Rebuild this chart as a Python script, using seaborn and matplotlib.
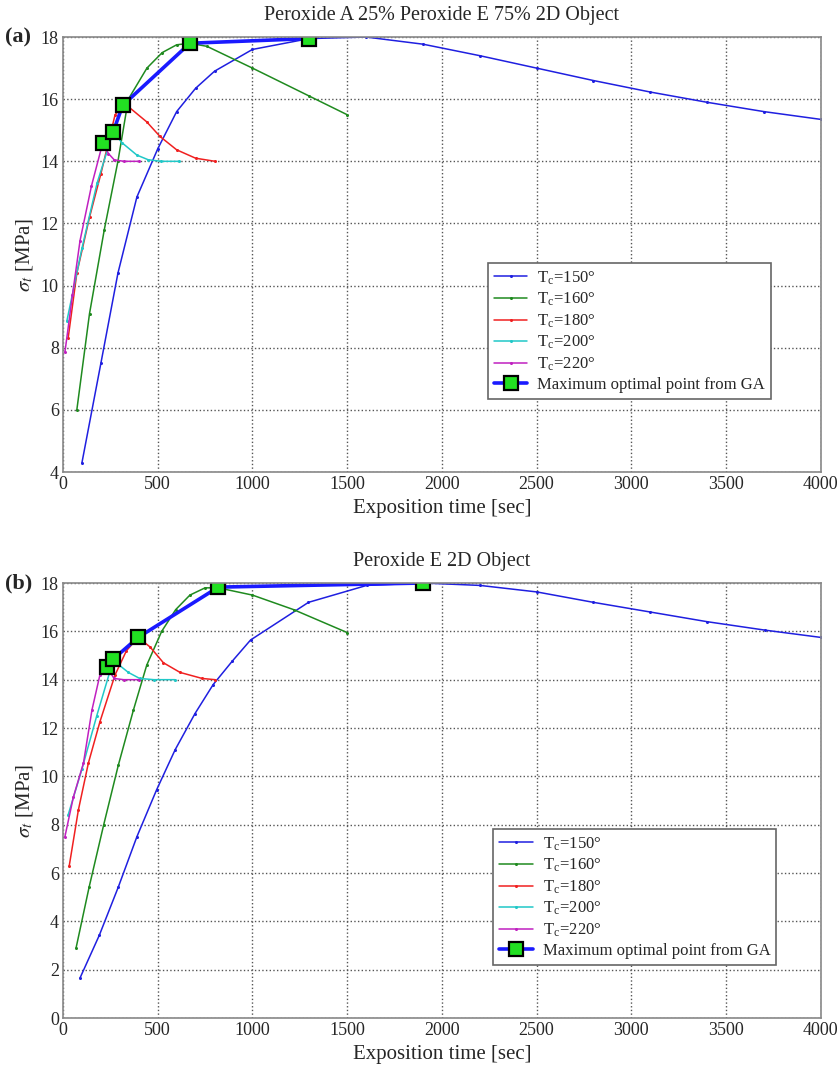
import matplotlib
matplotlib.use('Agg')
import matplotlib.pyplot as plt
import seaborn as sns
import pandas as pd

# (a) Peroxide A 25% / Peroxide E 75%
a150_t = [100, 200, 290, 390, 500, 600, 700, 800, 1000, 1300, 1600, 1900, 2200, 2500, 2800, 3100, 3400, 3700, 4000]
a150_s = [4.3, 7.5, 10.4, 12.85, 14.4, 15.6, 16.35, 16.9, 17.6, 17.95, 18.0, 17.77, 17.4, 17.0, 16.6, 16.23, 15.9, 15.6, 15.35]
a160_t = [73, 140, 218, 290, 345, 443, 524, 600, 670, 760, 1000, 1300, 1500]
a160_s = [6.0, 9.1, 11.8, 14.0, 16.0, 17.0, 17.5, 17.75, 17.8, 17.7, 17.0, 16.1, 15.5]
a180_t = [27, 73, 140, 200, 275, 327, 442, 512, 600, 700, 803]
a180_s = [8.3, 10.4, 12.2, 13.6, 15.5, 15.85, 15.27, 14.8, 14.37, 14.1, 14.0]
a200_t = [20, 100, 180, 265, 311, 390, 450, 520, 610]
a200_s = [8.85, 11.2, 13.3, 14.95, 14.6, 14.2, 14.05, 14.0, 14.0]
a220_t = [10, 50, 90, 150, 210, 240, 270, 320, 400]
a220_s = [7.85, 9.7, 11.45, 13.2, 14.6, 14.25, 14.05, 14.0, 14.0]
a_ga_t = [210, 265, 315, 670, 1300]
a_ga_s = [14.6, 14.95, 15.8, 17.8, 17.95]

# (b) Peroxide E
b150_t = [90, 192, 292, 390, 494, 592, 697, 793, 894, 990, 1296, 1603, 1900, 2202, 2502, 2800, 3100, 3400, 3706, 4000]
b150_s = [1.66, 3.43, 5.42, 7.5, 9.44, 11.1, 12.6, 13.8, 14.77, 15.64, 17.2, 17.9, 18.0, 17.9, 17.63, 17.2, 16.8, 16.4, 16.05, 15.75]
b160_t = [69, 138, 215, 292, 372, 442, 521, 595, 670, 750, 820, 1000, 1217, 1500]
b160_s = [2.9, 5.42, 8.0, 10.46, 12.75, 14.6, 16.0, 16.9, 17.5, 17.8, 17.8, 17.5, 16.9, 15.95]
b180_t = [33, 81, 134, 195, 275, 335, 397, 460, 530, 618, 735, 803]
b180_s = [6.3, 8.6, 10.55, 12.26, 14.2, 15.2, 15.75, 15.35, 14.7, 14.3, 14.05, 14.0]
b200_t = [27, 100, 178, 265, 345, 405, 480, 590]
b200_s = [8.4, 10.3, 12.5, 14.8, 14.3, 14.05, 14.0, 14.0]
b220_t = [10, 55, 108, 153, 195, 232, 270, 320, 400]
b220_s = [7.5, 9.15, 10.55, 12.75, 14.2, 14.5, 14.05, 14.0, 14.0]
b_ga_t = [232, 265, 397, 820, 1900]
b_ga_s = [14.52, 14.85, 15.75, 17.83, 18.0]

temps = ['150', '160', '180', '200', '220']
colors = ['#1f1fe0', '#1f8a1f', '#f02020', '#20c8c8', '#c020c0']

sns.set_style('whitegrid')
plt.rcParams['font.family'] = ['Liberation Serif', 'DejaVu Serif']
plt.rcParams['mathtext.fontset'] = 'stix'

fig = plt.figure(figsize=(8.4, 10.67), dpi=100)
ax_a = fig.add_axes([0.075, 0.5576, 0.902, 0.4077])
ax_b = fig.add_axes([0.075, 0.0459, 0.902, 0.4077])

panels = [
    (ax_a, [(a150_t, a150_s), (a160_t, a160_s), (a180_t, a180_s), (a200_t, a200_s), (a220_t, a220_s)],
     (a_ga_t, a_ga_s), 'Peroxide A 25% Peroxide E 75% 2D Object', (4, 18), [4, 6, 8, 10, 12, 14, 16, 18],
     (0.55, 0.149), '(a)'),
    (ax_b, [(b150_t, b150_s), (b160_t, b160_s), (b180_t, b180_s), (b200_t, b200_s), (b220_t, b220_s)],
     (b_ga_t, b_ga_s), 'Peroxide E 2D Object', (0, 18), [0, 2, 4, 6, 8, 10, 12, 14, 16, 18],
     (0.557, 0.103), '(b)'),
]

for ax, series, ga, title, ylim, yticks, leg_pos, tag in panels:
    for (t, s), temp, c in zip(series, temps, colors):
        df = pd.DataFrame({'t': t, 's': s})
        sns.lineplot(data=df, x='t', y='s', ax=ax, color=c, lw=1.1, marker='o', markersize=2.2,
                     markeredgewidth=0, sort=False, label=r'T$_{\mathregular{c}}$=' + temp + '°')
    gdf = pd.DataFrame({'t': ga[0], 's': ga[1]})
    sns.lineplot(data=gdf, x='t', y='s', ax=ax, color='#1a1aff', lw=2.6, marker='s', markersize=10,
                 markerfacecolor='#22e022', markeredgecolor='black', markeredgewidth=1.6, sort=False,
                 label='Maximum optimal point from GA')

    ax.set_xlim(0, 4000)
    ax.set_ylim(*ylim)
    ax.set_xticks(range(0, 4001, 500))
    ax.set_yticks(yticks)
    ax.grid(True, color='#555555', linestyle=':', linewidth=1.0)
    for sp in ax.spines.values():
        sp.set_color('#888888')
        sp.set_linewidth(1.2)
    ax.tick_params(axis='both', labelsize=13, length=0, pad=3)
    ax.set_title(title, fontsize=14.5, pad=12)
    ax.set_xlabel('Exposition time [sec]', fontsize=15, labelpad=4)
    ax.set_ylabel(r'$\sigma_t$ [MPa]', fontsize=15, labelpad=4)
    leg = ax.legend(loc='lower left', bbox_to_anchor=leg_pos, fontsize=12, fancybox=False,
                    framealpha=1, edgecolor='#666666', handlelength=2.0, borderpad=0.35,
                    labelspacing=0.25, handletextpad=0.6)
    leg.get_frame().set_linewidth(1.2)
    pos = ax.get_position()
    fig.text(0.006, pos.y1, tag, fontsize=16, fontweight='bold', va='center', ha='left')

fig.savefig('out.png', dpi=100)
